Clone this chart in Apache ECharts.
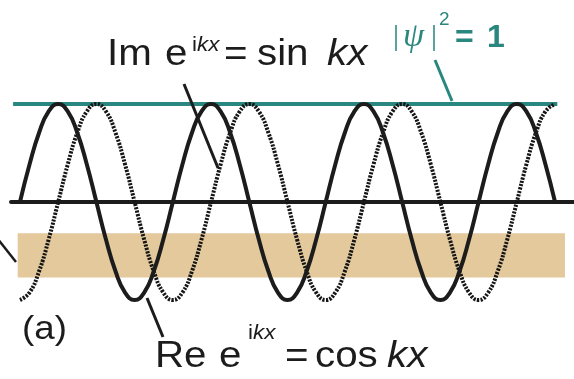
<!DOCTYPE html>
<html>
<head>
<meta charset="utf-8">
<script src="https://cdn.jsdelivr.net/npm/echarts@6/dist/echarts.min.js"></script>
<style>
  html, body { margin: 0; padding: 0; background: #fff; }
  #chart { width: 574px; height: 379px; }
</style>
</head>
<body>
<div id="chart"></div>
<script>
// kx in units of pi, sampled every pi/8
const kx = [
  -0.5, -0.375, -0.25, -0.125, 0, 0.125, 0.25, 0.375, 0.5, 0.625, 0.75, 0.875,
  1, 1.125, 1.25, 1.375, 1.5, 1.625, 1.75, 1.875,
  2, 2.125, 2.25, 2.375, 2.5, 2.625, 2.75, 2.875,
  3, 3.125, 3.25, 3.375, 3.5, 3.625, 3.75, 3.875,
  4, 4.125, 4.25, 4.375, 4.5, 4.625, 4.75, 4.875,
  5, 5.125, 5.25, 5.375, 5.5, 5.625, 5.75, 5.875,
  6, 6.125, 6.25, 6.375, 6.5
];

// Re e^{ikx} = cos kx
const reValues = [
  0, 0.383, 0.707, 0.924, 1, 0.924, 0.707, 0.383, 0, -0.383, -0.707, -0.924, -1, -0.924, -0.707, -0.383,
  0, 0.383, 0.707, 0.924, 1, 0.924, 0.707, 0.383, 0, -0.383, -0.707, -0.924, -1, -0.924, -0.707, -0.383,
  0, 0.383, 0.707, 0.924, 1, 0.924, 0.707, 0.383, 0, -0.383, -0.707, -0.924, -1, -0.924, -0.707, -0.383,
  0, 0.383, 0.707, 0.924, 1, 0.924, 0.707, 0.383, 0
];

// Im e^{ikx} = sin kx
const imValues = [
  -1, -0.924, -0.707, -0.383, 0, 0.383, 0.707, 0.924, 1, 0.924, 0.707, 0.383, 0, -0.383, -0.707, -0.924,
  -1, -0.924, -0.707, -0.383, 0, 0.383, 0.707, 0.924, 1, 0.924, 0.707, 0.383, 0, -0.383, -0.707, -0.924,
  -1, -0.924, -0.707, -0.383, 0, 0.383, 0.707, 0.924, 1, 0.924, 0.707, 0.383, 0, -0.383, -0.707, -0.924,
  -1, -0.924, -0.707, -0.383, 0, 0.383, 0.707, 0.924, 1
];

// |psi|^2 = 1 across the drawn span
const densityX = [-0.59, 6.53];
const densityValue = 1;

// tan band spans
const bandX = [-0.53, 6.63];
const bandY = [-0.77, -0.32];

const INK = '#1c1c1c';
const TEAL = '#2a877f';
const TAN = '#e3c99c';
const SANS = '"Liberation Sans", Arial, sans-serif';
const SERIF = '"Liberation Serif", "Times New Roman", serif';
const WIDE = 1.12;   // horizontal stretch of the label type

function pairs(xs, ys) { return xs.map((x, i) => [x, ys[i]]); }

function txt(text, x, y, font, fill, sx) {
  return {
    type: 'text', x: x, y: y, z: 10, scaleX: sx || 1,
    style: { text: text, font: font, fill: fill || INK, textAlign: 'left', textVerticalAlign: 'middle' }
  };
}
function lead(x1, y1, x2, y2, color, w) {
  return {
    type: 'line', z: 10,
    shape: { x1: x1, y1: y1, x2: x2, y2: y2 },
    style: { stroke: color || INK, lineWidth: w || 3 }
  };
}

const chart = echarts.init(document.getElementById('chart'), null, { renderer: 'canvas' });

chart.setOption({
  animation: false,
  backgroundColor: '#ffffff',
  grid: { left: 11, top: 104, width: 565, height: 196, containLabel: false },
  xAxis: {
    type: 'value', min: -0.6173, max: 6.748,
    axisLine: { show: true, onZero: true, lineStyle: { color: INK, width: 4 } },
    axisTick: { show: false }, axisLabel: { show: false }, splitLine: { show: false }
  },
  yAxis: {
    type: 'value', min: -1, max: 1,
    axisLine: { show: false }, axisTick: { show: false },
    axisLabel: { show: false }, splitLine: { show: false }
  },
  series: [
    {
      name: 'band', type: 'line', data: [], z: 1, silent: true,
      markArea: {
        silent: true,
        itemStyle: { color: TAN, opacity: 1 },
        data: [[{ coord: [bandX[0], bandY[1]] }, { coord: [bandX[1], bandY[0]] }]]
      }
    },
    {
      name: '|ψ|²', type: 'line', z: 2, symbol: 'none', silent: true,
      data: densityX.map(x => [x, densityValue]),
      lineStyle: { color: TEAL, width: 4 }
    },
    {
      name: 'Im', type: 'line', z: 3, symbol: 'none', smooth: true, silent: true,
      data: pairs(kx, imValues),
      lineStyle: { color: '#151515', width: 4, type: [2.2, 1.3], cap: 'butt' }
    },
    {
      name: 'Re', type: 'line', z: 4, symbol: 'none', smooth: true, silent: true,
      data: pairs(kx, reValues),
      lineStyle: { color: INK, width: 4, cap: 'round' }
    }
  ],
  graphic: [
    // Im e^{ikx} = sin kx
    txt('Im', 107, 55, '36px ' + SANS, INK, WIDE),
    txt('e', 165, 55, '36px ' + SANS, INK, WIDE),
    txt('i', 192, 45, '20px ' + SANS, INK, WIDE),
    txt('kx', 197, 45, 'italic 20px ' + SANS, INK, WIDE),
    txt('=', 224, 55, '36px ' + SANS, INK, WIDE),
    txt('sin', 257, 55, '36px ' + SANS, INK, WIDE),
    txt('kx', 327, 55, 'italic 36px ' + SANS, INK, WIDE),
    lead(184, 84, 218, 168),

    // Re e^{ikx} = cos kx
    txt('Re', 155, 357, '36px ' + SANS, INK, WIDE),
    txt('e', 219, 357, '36px ' + SANS, INK, WIDE),
    txt('i', 248, 333, '20px ' + SANS, INK, WIDE),
    txt('kx', 253, 333, 'italic 20px ' + SANS, INK, WIDE),
    txt('=', 285, 357, '36px ' + SANS, INK, WIDE),
    txt('cos', 315, 357, '36px ' + SANS, INK, WIDE),
    txt('kx', 387, 357, 'italic 36px ' + SANS, INK, WIDE),
    lead(147, 298, 163, 337),

    // panel tag
    txt('(a)', 22, 330, '34px ' + SANS, INK, 1.08),

    // |psi|^2 = 1
    txt('|', 393, 37, '30px ' + SERIF, TEAL),
    txt('ψ', 403, 37, 'italic 34px ' + SERIF, TEAL),
    txt('|', 431, 37, '30px ' + SERIF, TEAL),
    txt('2', 439, 20, '19px ' + SANS, TEAL),
    txt('=', 455, 38, 'bold 32px ' + SANS, TEAL),
    txt('1', 487, 38, 'bold 32px ' + SANS, TEAL),
    lead(435, 60, 452, 101, TEAL, 3),

    // pointer to the band from the left
    lead(-3, 238, 16, 262, INK, 2.5)
  ]
});
</script>
</body>
</html>
